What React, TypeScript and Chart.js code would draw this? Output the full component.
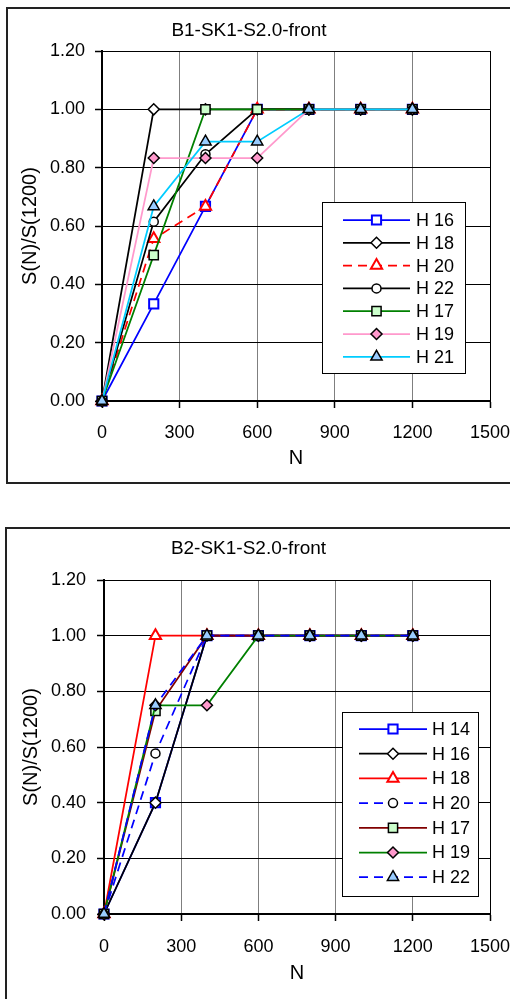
import React, { useEffect, useRef } from 'react';
import { Chart, registerables } from 'chart.js';
import { drawPoint } from 'chart.js/helpers';

Chart.register(...registerables);

// ---------- data ----------
const nValues = [0, 200, 400, 600, 800, 1000, 1200];
const xTickValues = [0, 300, 600, 900, 1200, 1500];
const yTickValues = [0, 0.2, 0.4, 0.6, 0.8, 1.0, 1.2];

const chart1Title = 'B1-SK1-S2.0-front';
const chart1Labels = ['H 16', 'H 18', 'H 20', 'H 22', 'H 17', 'H 19', 'H 21'];
const c1H16 = [0, 0.333, 0.667, 1, 1, 1, 1];
const c1H18 = [0, 1, 1, 1, 1, 1, 1];
const c1H20 = [0, 0.556, 0.667, 1, 1, 1, 1];
const c1H22 = [0, 0.615, 0.846, 1, 1, 1, 1];
const c1H17 = [0, 0.5, 1, 1, 1, 1, 1];
const c1H19 = [0, 0.833, 0.833, 0.833, 1, 1, 1];
const c1H21 = [0, 0.667, 0.889, 0.889, 1, 1, 1];

const chart2Title = 'B2-SK1-S2.0-front';
const chart2Labels = ['H 14', 'H 16', 'H 18', 'H 20', 'H 17', 'H 19', 'H 22'];
const c2H14 = [0, 0.4, 1, 1, 1, 1, 1];
const c2H16 = [0, 0.4, 1, 1, 1, 1, 1];
const c2H18 = [0, 1, 1, 1, 1, 1, 1];
const c2H20 = [0, 0.577, 1, 1, 1, 1, 1];
const c2H17 = [0, 0.73, 1, 1, 1, 1, 1];
const c2H19 = [0, 0.75, 0.75, 1, 1, 1, 1];
const c2H22 = [0, 0.75, 1, 1, 1, 1, 1];

const xAxisTitle = 'N';
const yAxisTitle = 'S(N)/S(1200)';

// ---------- styles ----------
type SeriesStyle = {
  line: string;
  dash?: number[];
  point: string;
  radius: number;
  fill: string;
  edge: string;
  edgeWidth: number;
};

const DASH = [9, 6];
const styles1: SeriesStyle[] = [
  { line: '#0000ff', point: 'rect', radius: 6.5, fill: '#ffffff', edge: '#0000ff', edgeWidth: 2 },
  { line: '#000000', point: 'rectRot', radius: 5.5, fill: '#ffffff', edge: '#000000', edgeWidth: 1.5 },
  { line: '#ff0000', dash: DASH, point: 'triangle', radius: 6.5, fill: '#ffffff', edge: '#ff0000', edgeWidth: 2 },
  { line: '#000000', point: 'circle', radius: 4.5, fill: '#ffffff', edge: '#000000', edgeWidth: 1.5 },
  { line: '#008000', point: 'rect', radius: 6.5, fill: '#ccffcc', edge: '#000000', edgeWidth: 1.5 },
  { line: '#ff99cc', point: 'rectRot', radius: 5.5, fill: '#ff99cc', edge: '#000000', edgeWidth: 1.5 },
  { line: '#00ccff', point: 'triangle', radius: 6.5, fill: '#99ccff', edge: '#000000', edgeWidth: 1.5 },
];
const styles2: SeriesStyle[] = [
  { line: '#0000ff', point: 'rect', radius: 6.5, fill: '#ffffff', edge: '#0000ff', edgeWidth: 2 },
  { line: '#000000', point: 'rectRot', radius: 5.5, fill: '#ffffff', edge: '#000000', edgeWidth: 1.5 },
  { line: '#ff0000', point: 'triangle', radius: 6.5, fill: '#ffffff', edge: '#ff0000', edgeWidth: 2 },
  { line: '#0000ff', dash: DASH, point: 'circle', radius: 4.5, fill: '#ffffff', edge: '#000000', edgeWidth: 1.5 },
  { line: '#800000', point: 'rect', radius: 6.5, fill: '#ccffcc', edge: '#000000', edgeWidth: 1.5 },
  { line: '#008000', point: 'rectRot', radius: 5.5, fill: '#ff99cc', edge: '#000000', edgeWidth: 1.5 },
  { line: '#0000ff', dash: DASH, point: 'triangle', radius: 6.5, fill: '#99ccff', edge: '#000000', edgeWidth: 1.5 },
];

const FONT = '"Liberation Sans", Arial, sans-serif';

// ---------- legend plugin ----------
const boxLegend = {
  id: 'boxLegend',
  afterDraw(chart: any, _args: any, opts: any) {
    if (!opts || !opts.box) return;
    const ctx = chart.ctx as CanvasRenderingContext2D;
    const b = opts.box;
    ctx.save();
    ctx.fillStyle = '#ffffff';
    ctx.fillRect(b.x, b.y, b.w, b.h);
    ctx.strokeStyle = '#000000';
    ctx.lineWidth = 1;
    ctx.setLineDash([]);
    ctx.strokeRect(b.x + 0.5, b.y + 0.5, b.w, b.h);
    chart.data.datasets.forEach((ds: any, i: number) => {
      const y = b.firstY + i * b.rowH;
      ctx.save();
      ctx.strokeStyle = ds.borderColor;
      ctx.lineWidth = ds.borderWidth;
      ctx.setLineDash(ds.borderDash || []);
      ctx.beginPath();
      ctx.moveTo(b.lineX1, y);
      ctx.lineTo(b.lineX2, y);
      ctx.stroke();
      ctx.setLineDash([]);
      ctx.fillStyle = ds.pointBackgroundColor;
      ctx.strokeStyle = ds.pointBorderColor;
      ctx.lineWidth = ds.pointBorderWidth;
      drawPoint(ctx, { pointStyle: ds.pointStyle, radius: ds.pointRadius, borderWidth: ds.pointBorderWidth, rotation: 0 } as any, (b.lineX1 + b.lineX2) / 2, y);
      ctx.restore();
      ctx.fillStyle = '#000000';
      ctx.font = `18px ${FONT}`;
      ctx.textBaseline = 'middle';
      ctx.textAlign = 'left';
      ctx.fillText(ds.label, b.textX, y + 1);
    });
    ctx.restore();
  },
};

type Geometry = {
  width: number;
  height: number;
  yWidth: number;
  xHeight: number;
  padRight: number;
  titlePadTop: number;
  titlePadBottom: number;
  yTickPad: number;
  xTickPad: number;
  xTitlePadBottom: number;
  yTitlePadTop: number;
  legend: any;
};

function buildConfig(title: string, labels: string[], series: number[][], sty: SeriesStyle[], g: Geometry): any {
  const n = series.length;
  const datasets = series.map((vals, i) => ({
    label: labels[i],
    data: vals.map((v, k) => ({ x: nValues[k], y: v })),
    borderColor: sty[i].line,
    borderWidth: 1.75,
    borderDash: sty[i].dash || [],
    pointStyle: sty[i].point,
    pointRadius: sty[i].radius,
    pointHoverRadius: sty[i].radius,
    pointBackgroundColor: sty[i].fill,
    pointBorderColor: sty[i].edge,
    pointBorderWidth: sty[i].edgeWidth,
    tension: 0,
    fill: false,
    clip: false,
    order: n - i,
  }));
  return {
    type: 'line',
    data: { datasets },
    options: {
      animation: false,
      responsive: false,
      devicePixelRatio: 1,
      events: [],
      layout: { padding: { left: 0, right: g.padRight, top: 0, bottom: 0 } },
      plugins: {
        legend: { display: false },
        tooltip: { enabled: false },
        title: {
          display: true,
          text: title,
          color: '#000',
          font: { family: FONT, size: 19, weight: 'normal' },
          padding: { top: g.titlePadTop, bottom: g.titlePadBottom },
        },
        boxLegend: { box: g.legend },
      },
      scales: {
        x: {
          type: 'linear',
          min: 0,
          max: 1500,
          afterFit: (s: any) => {
            s.height = g.xHeight;
            s.paddingLeft = 0;
            s.paddingRight = 0;
          },
          afterBuildTicks: (s: any) => { s.ticks = xTickValues.map((v) => ({ value: v })); },
          ticks: {
            color: '#000',
            font: { family: FONT, size: 18 },
            padding: g.xTickPad,
            maxRotation: 0,
            callback: (v: any) => String(v),
          },
          grid: {
            color: (c: any) => (c.tick && c.tick.value === 1500 ? '#000000' : '#7f7f7f'),
            lineWidth: 1,
            tickLength: 7,
            tickColor: '#000',
            tickWidth: 1.5,
          },
          border: { display: true, color: '#000', width: 2 },
          title: {
            display: true,
            text: xAxisTitle,
            color: '#000',
            font: { family: FONT, size: 20 },
            padding: { top: 0, bottom: g.xTitlePadBottom },
          },
        },
        y: {
          type: 'linear',
          min: 0,
          max: 1.2,
          afterFit: (s: any) => {
            s.width = g.yWidth;
            s.paddingTop = 0;
            s.paddingBottom = 0;
          },
          afterBuildTicks: (s: any) => { s.ticks = yTickValues.map((v) => ({ value: v })); },
          ticks: {
            color: '#000',
            font: { family: FONT, size: 18 },
            padding: g.yTickPad,
            callback: (v: any) => Number(v).toFixed(2),
          },
          grid: {
            color: '#000',
            lineWidth: 1,
            tickLength: 7,
            tickColor: '#000',
            tickWidth: 1.5,
          },
          border: { display: true, color: '#000', width: 2 },
          title: {
            display: true,
            text: yAxisTitle,
            color: '#000',
            font: { family: FONT, size: 20 },
            padding: { top: g.yTitlePadTop, bottom: 0 },
          },
        },
      },
    },
    plugins: [boxLegend],
  };
}

function ChartCanvas(props: { left: number; top: number; config: any; width: number; height: number }) {
  const ref = useRef<HTMLCanvasElement | null>(null);
  useEffect(() => {
    if (!ref.current) return;
    const chart = new Chart(ref.current, props.config);
    return () => chart.destroy();
  }, []);
  return (
    <canvas
      ref={ref}
      width={props.width}
      height={props.height}
      style={{ position: 'absolute', left: props.left, top: props.top, width: props.width, height: props.height }}
    />
  );
}

const geom1: Geometry = {
  width: 502,
  height: 474,
  yWidth: 94,
  xHeight: 82,
  padRight: 20,
  titlePadTop: 10,
  titlePadBottom: 9.2,
  yTickPad: 10,
  xTickPad: 14,
  xTitlePadBottom: 13,
  yTitlePadTop: 10,
  legend: { x: 314, y: 193, w: 143, h: 171, firstY: 211, rowH: 22.8, lineX1: 335, lineX2: 402, textX: 408 },
};

const geom2: Geometry = {
  width: 503,
  height: 470,
  yWidth: 97,
  xHeight: 85,
  padRight: 20,
  titlePadTop: 8.6,
  titlePadBottom: 19.6,
  yTickPad: 11,
  xTickPad: 15,
  xTitlePadBottom: 14,
  yTitlePadTop: 12,
  legend: { x: 335, y: 183, w: 136, h: 184, firstY: 200, rowH: 24.7, lineX1: 352, lineX2: 420, textX: 425 },
};

export default function App() {
  const cfg1 = buildConfig(chart1Title, chart1Labels, [c1H16, c1H18, c1H20, c1H22, c1H17, c1H19, c1H21], styles1, geom1);
  const cfg2 = buildConfig(chart2Title, chart2Labels, [c2H14, c2H16, c2H18, c2H20, c2H17, c2H19, c2H22], styles2, geom2);
  return (
    <div style={{ position: 'absolute', left: 0, top: 0, width: 510, height: 999, overflow: 'hidden', background: '#fff' }}>
      <div style={{ position: 'absolute', left: 6, top: 7, width: 600, height: 473, border: '2px solid #222' }} />
      <div style={{ position: 'absolute', left: 5, top: 527, width: 600, height: 600, border: '2px solid #222' }} />
      <ChartCanvas left={8} top={9} width={geom1.width} height={geom1.height} config={cfg1} />
      <ChartCanvas left={7} top={529} width={geom2.width} height={geom2.height} config={cfg2} />
    </div>
  );
}
